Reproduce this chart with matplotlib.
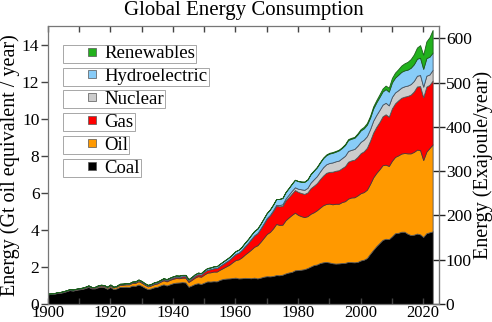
import matplotlib
matplotlib.use("Agg")
import matplotlib.pyplot as plt
from matplotlib.lines import Line2D
from matplotlib.patches import Rectangle
import numpy as np

# Annual world primary energy consumption, Gt oil equivalent per year
years = list(range(1900, 2024))

coal = [
    0.52, 0.54, 0.55, 0.59, 0.60, 0.64, 0.69, 0.75, 0.72, 0.76,
    0.79, 0.81, 0.86, 0.92, 0.84, 0.84, 0.90, 0.93, 0.91, 0.82,
    0.92, 0.80, 0.84, 0.92, 0.92, 0.93, 0.92, 0.99, 0.98, 1.05,
    0.98, 0.88, 0.80, 0.84, 0.90, 0.93, 1.00, 1.06, 1.00, 1.06,
    1.12, 1.15, 1.16, 1.18, 1.16, 0.93, 1.00, 1.08, 1.12, 1.08,
    1.15, 1.22, 1.21, 1.23, 1.22, 1.30, 1.35, 1.37, 1.38, 1.40,
    1.42, 1.38, 1.39, 1.41, 1.40, 1.39, 1.42, 1.38, 1.42, 1.47,
    1.50, 1.49, 1.51, 1.56, 1.55, 1.58, 1.65, 1.70, 1.73, 1.82,
    1.83, 1.85, 1.88, 1.94, 2.02, 2.10, 2.13, 2.21, 2.25, 2.27,
    2.24, 2.20, 2.18, 2.19, 2.21, 2.22, 2.27, 2.26, 2.25, 2.27,
    2.35, 2.39, 2.48, 2.71, 2.92, 3.12, 3.29, 3.46, 3.52, 3.50,
    3.65, 3.82, 3.84, 3.90, 3.90, 3.79, 3.72, 3.74, 3.80, 3.76,
    3.62, 3.82, 3.87, 3.92,
]

oil = [
    0.02, 0.02, 0.02, 0.03, 0.03, 0.03, 0.03, 0.03, 0.04, 0.04,
    0.04, 0.05, 0.05, 0.05, 0.05, 0.05, 0.06, 0.07, 0.07, 0.07,
    0.09, 0.09, 0.10, 0.11, 0.12, 0.13, 0.14, 0.15, 0.16, 0.18,
    0.17, 0.16, 0.15, 0.16, 0.17, 0.18, 0.20, 0.22, 0.22, 0.24,
    0.24, 0.25, 0.23, 0.24, 0.26, 0.26, 0.30, 0.34, 0.38, 0.39,
    0.44, 0.47, 0.50, 0.52, 0.53, 0.55, 0.59, 0.66, 0.74, 0.85,
    0.95, 1.03, 1.13, 1.26, 1.40, 1.55, 1.67, 1.79, 1.94, 2.10,
    2.28, 2.40, 2.57, 2.76, 2.72, 2.70, 2.87, 2.97, 3.08, 3.11,
    2.98, 2.89, 2.81, 2.80, 2.85, 2.85, 2.93, 2.99, 3.08, 3.13,
    3.18, 3.18, 3.23, 3.22, 3.29, 3.33, 3.42, 3.49, 3.51, 3.59,
    3.63, 3.65, 3.69, 3.77, 3.91, 3.95, 3.98, 4.03, 4.00, 3.95,
    4.08, 4.12, 4.18, 4.22, 4.25, 4.34, 4.41, 4.47, 4.53, 4.55,
    4.15, 4.40, 4.55, 4.69,
]

gas = [
    0.01, 0.01, 0.01, 0.01, 0.01, 0.01, 0.01, 0.01, 0.01, 0.01,
    0.01, 0.01, 0.01, 0.02, 0.02, 0.02, 0.02, 0.02, 0.02, 0.02,
    0.02, 0.02, 0.02, 0.03, 0.03, 0.03, 0.03, 0.04, 0.04, 0.05,
    0.05, 0.04, 0.04, 0.04, 0.05, 0.05, 0.05, 0.06, 0.06, 0.06,
    0.07, 0.07, 0.07, 0.08, 0.08, 0.08, 0.09, 0.10, 0.11, 0.12,
    0.15, 0.16, 0.17, 0.18, 0.19, 0.21, 0.23, 0.25, 0.27, 0.30,
    0.33, 0.36, 0.40, 0.44, 0.49, 0.56, 0.61, 0.65, 0.71, 0.77,
    0.84, 0.89, 0.94, 0.98, 1.00, 1.01, 1.07, 1.10, 1.15, 1.22,
    1.24, 1.25, 1.25, 1.28, 1.38, 1.43, 1.46, 1.54, 1.60, 1.68,
    1.71, 1.76, 1.78, 1.81, 1.83, 1.89, 1.99, 2.00, 2.03, 2.08,
    2.16, 2.20, 2.26, 2.33, 2.42, 2.49, 2.55, 2.64, 2.72, 2.66,
    2.83, 2.89, 2.97, 3.01, 3.04, 3.10, 3.17, 3.26, 3.41, 3.45,
    3.39, 3.51, 3.41, 3.45,
]

nuclear = [
    0.00, 0.00, 0.00, 0.00, 0.00, 0.00, 0.00, 0.00, 0.00, 0.00,
    0.00, 0.00, 0.00, 0.00, 0.00, 0.00, 0.00, 0.00, 0.00, 0.00,
    0.00, 0.00, 0.00, 0.00, 0.00, 0.00, 0.00, 0.00, 0.00, 0.00,
    0.00, 0.00, 0.00, 0.00, 0.00, 0.00, 0.00, 0.00, 0.00, 0.00,
    0.00, 0.00, 0.00, 0.00, 0.00, 0.00, 0.00, 0.00, 0.00, 0.00,
    0.00, 0.00, 0.00, 0.00, 0.00, 0.00, 0.00, 0.00, 0.00, 0.00,
    0.00, 0.00, 0.00, 0.01, 0.01, 0.01, 0.01, 0.01, 0.01, 0.01,
    0.02, 0.03, 0.04, 0.05, 0.07, 0.09, 0.10, 0.13, 0.15, 0.15,
    0.17, 0.20, 0.22, 0.25, 0.30, 0.35, 0.38, 0.41, 0.45, 0.46,
    0.48, 0.50, 0.51, 0.52, 0.54, 0.56, 0.58, 0.57, 0.58, 0.60,
    0.61, 0.63, 0.63, 0.62, 0.64, 0.64, 0.65, 0.63, 0.62, 0.61,
    0.62, 0.59, 0.55, 0.55, 0.56, 0.56, 0.57, 0.57, 0.58, 0.60,
    0.57, 0.59, 0.56, 0.58,
]

hydro = [
    0.00, 0.00, 0.00, 0.00, 0.01, 0.01, 0.01, 0.01, 0.01, 0.01,
    0.01, 0.01, 0.01, 0.01, 0.01, 0.01, 0.02, 0.02, 0.02, 0.02,
    0.02, 0.02, 0.02, 0.03, 0.03, 0.03, 0.03, 0.03, 0.04, 0.04,
    0.04, 0.04, 0.04, 0.04, 0.05, 0.05, 0.05, 0.05, 0.06, 0.06,
    0.06, 0.07, 0.07, 0.07, 0.07, 0.07, 0.07, 0.08, 0.08, 0.08,
    0.08, 0.09, 0.09, 0.10, 0.10, 0.11, 0.12, 0.13, 0.14, 0.14,
    0.15, 0.16, 0.17, 0.19, 0.20, 0.22, 0.23, 0.24, 0.25, 0.27,
    0.27, 0.29, 0.30, 0.31, 0.33, 0.34, 0.35, 0.36, 0.38, 0.40,
    0.41, 0.41, 0.43, 0.44, 0.45, 0.46, 0.47, 0.48, 0.49, 0.49,
    0.51, 0.52, 0.52, 0.55, 0.55, 0.58, 0.59, 0.60, 0.60, 0.61,
    0.62, 0.61, 0.62, 0.62, 0.66, 0.68, 0.70, 0.71, 0.74, 0.74,
    0.78, 0.80, 0.83, 0.85, 0.86, 0.86, 0.88, 0.90, 0.92, 0.93,
    0.96, 0.95, 0.96, 0.93,
]

renewables = [
    0.00, 0.00, 0.00, 0.00, 0.00, 0.00, 0.00, 0.00, 0.00, 0.00,
    0.00, 0.00, 0.00, 0.00, 0.00, 0.00, 0.00, 0.00, 0.00, 0.00,
    0.00, 0.00, 0.00, 0.00, 0.00, 0.00, 0.00, 0.00, 0.00, 0.00,
    0.00, 0.00, 0.00, 0.00, 0.00, 0.00, 0.00, 0.00, 0.00, 0.00,
    0.00, 0.00, 0.00, 0.00, 0.00, 0.00, 0.00, 0.00, 0.00, 0.00,
    0.00, 0.00, 0.00, 0.00, 0.00, 0.00, 0.00, 0.00, 0.00, 0.00,
    0.00, 0.00, 0.00, 0.00, 0.00, 0.00, 0.00, 0.00, 0.00, 0.00,
    0.00, 0.00, 0.00, 0.00, 0.00, 0.00, 0.00, 0.00, 0.00, 0.01,
    0.01, 0.01, 0.02, 0.02, 0.02, 0.02, 0.03, 0.03, 0.03, 0.04,
    0.04, 0.04, 0.04, 0.04, 0.04, 0.05, 0.05, 0.05, 0.05, 0.06,
    0.07, 0.08, 0.09, 0.10, 0.11, 0.12, 0.14, 0.16, 0.19, 0.21,
    0.24, 0.27, 0.30, 0.34, 0.38, 0.42, 0.47, 0.53, 0.60, 0.68,
    0.76, 0.90, 1.05, 1.22,
]

labels = ["Coal", "Oil", "Gas", "Nuclear", "Hydroelectric", "Renewables"]
colors = ["#000000", "#ff9900", "#ff0000", "#cccccc", "#88ccf8", "#22b11d"]
edge_colors = ["#333333", "#555555", "#553333", "#555555", "#445566", "#1a5e1a"]

EJ_PER_GTOE = 41.868

plt.rcParams["font.family"] = ["Liberation Serif", "DejaVu Serif"]

fig = plt.figure(figsize=(4.92, 3.22), dpi=100)
ax = fig.add_axes([0.097, 0.056, 0.795, 0.863])

series = [coal, oil, gas, nuclear, hydro, renewables]
polys = ax.stackplot(years, *series, colors=colors, linewidth=0.6)
for p, ec in zip(polys, edge_colors):
    p.set_edgecolor(ec)

ax.set_xlim(1900, 2025)
ax.set_ylim(0, 15)

ax.set_xticks(range(1900, 2021, 20))
ax.set_xticks(range(1910, 2021, 20), minor=True)
ax.set_yticks(range(0, 15, 2))

frame = "#777777"
for s in ax.spines.values():
    s.set_color(frame)
    s.set_linewidth(0.9)

ax.tick_params(axis="x", which="both", direction="in", length=4, width=1,
               top=True, labelsize=12, pad=1, color="#444444")
for t in ax.xaxis.get_major_ticks() + ax.xaxis.get_minor_ticks():
    t.tick1line.set_color("white")
ax.tick_params(axis="y", direction="out", length=5, width=1,
               labelsize=12.5, pad=1, color="#444444", right=False)

fig.text(0.4947, 1 - 15.5 / 322, "Global Energy Consumption", fontsize=15,
         ha="center", va="baseline")
ax.set_ylabel("Energy (Gt oil equivalent / year)", fontsize=14.5,
              labelpad=1.5)

sec = ax.secondary_yaxis("right", functions=(lambda v: v * EJ_PER_GTOE,
                                             lambda v: v / EJ_PER_GTOE))
sec.set_yticks(range(0, 601, 100))
sec.tick_params(direction="inout", length=8, width=1, labelsize=12.5, pad=1,
                color="#222222")
sec.spines["right"].set_color(frame)
sec.set_ylabel("Energy (Exajoule/year)", fontsize=14.5, labelpad=1)

handles = [Line2D([], [], linestyle="none", marker="s", markersize=5.5,
                  markerfacecolor=c, markeredgecolor="#555555",
                  markeredgewidth=0.5)
           for c in colors]
leg = ax.legend(handles[::-1], labels[::-1], loc="upper left",
                bbox_to_anchor=(0.09, 0.932), frameon=False, fontsize=13.5,
                handlelength=1.0, handletextpad=0.15, labelspacing=0.31,
                borderpad=0.0, borderaxespad=0.0)

# thin box around each legend entry
fig.canvas.draw()
renderer = fig.canvas.get_renderer()
W, H = fig.bbox.width, fig.bbox.height
box_left = ax.transAxes.transform((0.04, 0))[0]
for txt in leg.get_texts():
    bb = txt.get_window_extent(renderer)
    yc = 0.5 * (bb.y0 + bb.y1)
    rect = Rectangle((box_left / W, (yc - 9) / H), (bb.x1 + 1 - box_left) / W,
                     18 / H, transform=fig.transFigure, fill=False,
                     edgecolor="#999999", linewidth=0.6, zorder=5)
    fig.add_artist(rect)

fig.savefig("out.png", dpi=100)
